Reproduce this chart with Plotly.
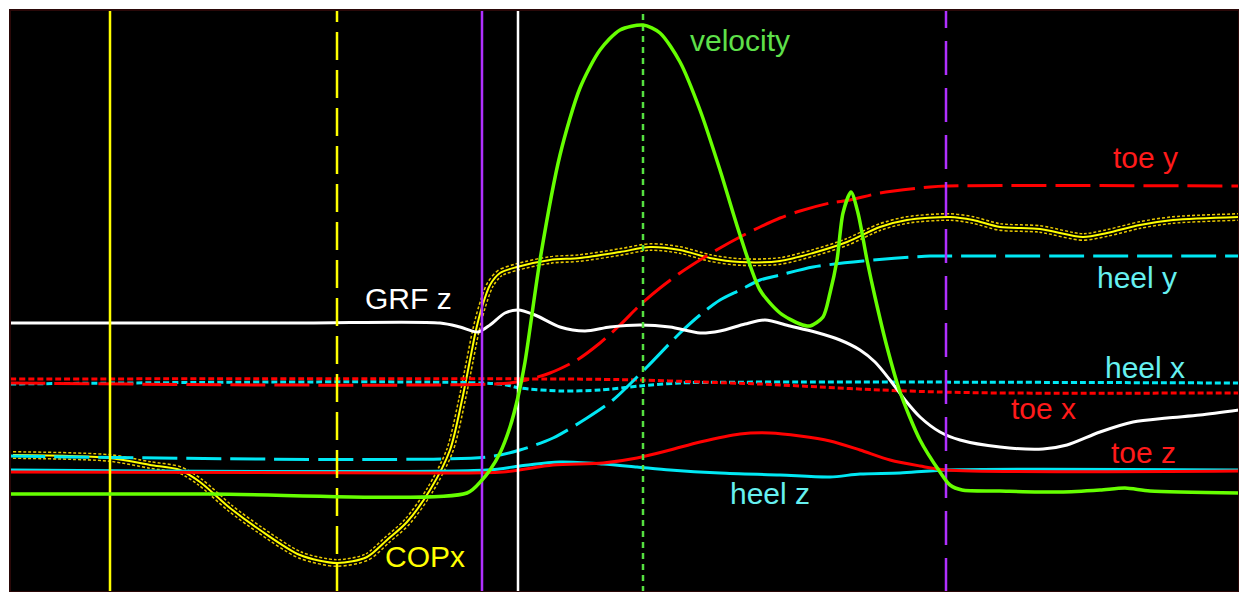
import plotly.graph_objects as go

# ---- gait trial signals (time in frames, amplitudes in arbitrary display units) ----
vel_t = [0, 200, 457, 472, 480, 490, 500, 508, 515, 530, 550, 570, 590, 610, 633, 650, 670, 690, 710, 730,
         750, 770, 790, 800, 813, 820, 827, 833, 841, 848, 857, 865, 877, 890, 910, 930, 940, 952, 990, 1050,
         1090, 1115, 1140, 1229]
vel_v = [98, 98, 99, 112, 122, 139, 165, 195, 230, 332, 437, 504, 542, 562, 567, 559, 530, 482, 422, 357,
         302, 279, 268, 266, 275, 299, 332, 379, 400, 379, 332, 295, 245, 200, 152, 120, 107, 102, 101, 100,
         102, 104, 101, 99]

grf_t = [0, 290, 430, 450, 468, 480, 495, 508, 525, 550, 575, 600, 630, 660, 690, 710, 735, 755, 780, 805,
         830, 850, 865, 880, 895, 910, 930, 950, 990, 1033, 1057, 1090, 1123, 1157, 1190, 1229]
grf_v = [269, 269, 269, 265, 260, 267, 279, 282, 277, 265, 261, 265, 267, 265, 259, 261, 268, 272, 266, 260,
         252, 242, 230, 212, 192, 175, 160, 152, 145, 143, 147, 160, 170, 174, 177, 182]

toe_y_t = [0, 500, 520, 540, 567, 590, 610, 630, 650, 670, 690, 710, 730, 750, 770, 790, 820, 840, 870, 920, 936, 1229]
toe_y_v = [209, 209, 213, 219, 232, 249, 267, 287, 304, 319, 332, 344, 355, 365, 374, 381, 389, 392, 399, 405, 406, 406]

heel_y_t = [0, 477, 510, 543, 577, 603, 637, 670, 690, 710, 730, 750, 770, 803, 853, 920, 936, 1229]
heel_y_v = [136, 135, 142, 154, 174, 192, 225, 259, 277, 292, 302, 312, 317, 325, 331, 336, 336, 336]

toe_x_t = [0, 550, 630, 690, 750, 810, 870, 930, 990, 1229]
toe_x_v = [213, 213, 212, 210, 208, 205, 202, 200, 199, 199]

heel_x_t = [0, 490, 510, 550, 590, 630, 670, 790, 1229]
heel_x_v = [208, 208, 204, 201, 202, 206, 209, 210, 209]

toe_z_t = [0, 410, 493, 543, 593, 627, 660, 690, 730, 760, 790, 820, 850, 880, 910, 936, 1229]
toe_z_v = [120, 119, 120, 127, 129, 134, 142, 150, 158, 159, 156, 151, 142, 132, 126, 122, 121]

heel_z_t = [0, 477, 510, 550, 593, 627, 660, 710, 770, 820, 850, 890, 936, 1229]
heel_z_v = [122, 122, 126, 130, 128, 125, 122, 119, 117, 115, 118, 119, 122, 122]

copx_t = [3, 100, 140, 170, 190, 220, 250, 290, 327, 357, 377, 397, 420, 440, 452, 460, 466, 472, 480, 490,
          507, 540, 570, 610, 640, 670, 700, 730, 770, 803, 837, 870, 897, 940, 963, 990, 1030, 1073, 1097, 1130,
          1163, 1229]
copx_v = [137, 134, 127, 122, 110, 84, 62, 37, 29, 35, 52, 70, 102, 142, 192, 232, 262, 285, 307, 319,
          325, 332, 334, 340, 345, 342, 334, 330, 331, 339, 350, 365, 372, 375, 372, 365, 363, 355, 359, 367,
          372, 375]

# gait events (frames)
events = [
    (100, "#ffff00", "solid"),
    (327, "#ffff00", "28px,10px"),
    (472, "#b030ff", "solid"),
    (508, "#ffffff", "solid"),
    (633, "#55e040", "6px,5px"),
    (936, "#b030ff", "34px,13px"),
]

# label text, position (frame, value), colour
labels = [
    ("velocity", 730, 552, "#5fe04a"),
    ("toe y", 1135, 435, "#ff1a1a"),
    ("heel y", 1127, 315, "#66f0f0"),
    ("GRF z", 398, 294, "#ffffff"),
    ("heel x", 1135, 225, "#66f0f0"),
    ("toe x", 1033, 184, "#ff1a1a"),
    ("toe z", 1133, 140, "#ff1a1a"),
    ("heel z", 760, 99, "#66f0f0"),
    ("COPx", 415, 36, "#ffff00"),
]

RED = "#ff0000"
CYAN = "#00e8f4"
GREEN = "#66ff00"

fig = go.Figure()


def add_line(x, y, color, width, dash="solid", shape="spline", smoothing=0.8):
    fig.add_trace(go.Scatter(x=x, y=y, mode="lines", hoverinfo="skip", showlegend=False,
                             line=dict(color=color, width=width, dash=dash, shape=shape,
                                       smoothing=smoothing if shape == "spline" else None)))


# COPx drawn as a double-dashed outline with a solid core
add_line(copx_t, copx_v, "#e8c800", 8, "3px,2px")
add_line(copx_t, copx_v, "#000000", 5)
add_line(copx_t, copx_v, "#ffff00", 2)

add_line(heel_z_t, heel_z_v, CYAN, 3)
add_line(toe_z_t, toe_z_v, RED, 3)
add_line(heel_x_t, heel_x_v, CYAN, 3, "6px,3px")
add_line(toe_x_t, toe_x_v, RED, 3, "6px,3px")
add_line(heel_y_t, heel_y_v, CYAN, 3, "35px,9px")
add_line(toe_y_t, toe_y_v, RED, 3, "35px,9px")
add_line(grf_t, grf_v, "#ffffff", 3)

for t, color, dash in events:
    add_line([t, t], [0, 582], color, 2.5, dash, shape="linear")

add_line(vel_t, vel_v, GREEN, 3.5, smoothing=0.75)

for text, t, v, color in labels:
    fig.add_annotation(x=t, y=v, text=text, showarrow=False, xanchor="center", yanchor="middle",
                       font=dict(family="Liberation Sans, Arial, sans-serif", size=30, color=color))

# thin frame round the plotting area
fig.add_shape(type="rect", xref="paper", yref="paper", x0=0, y0=0, x1=1, y1=1,
              line=dict(color="#2a0808", width=2), layer="above")

fig.update_layout(
    width=1239, height=592,
    margin=dict(l=10, r=0, t=10, b=0),
    paper_bgcolor="#ffffff",
    plot_bgcolor="#000000",
    xaxis=dict(range=[0, 1229], visible=False, fixedrange=True),
    yaxis=dict(range=[0, 582], visible=False, fixedrange=True),
    showlegend=False,
)

fig.write_html("out.html", config={"displayModeBar": False})
